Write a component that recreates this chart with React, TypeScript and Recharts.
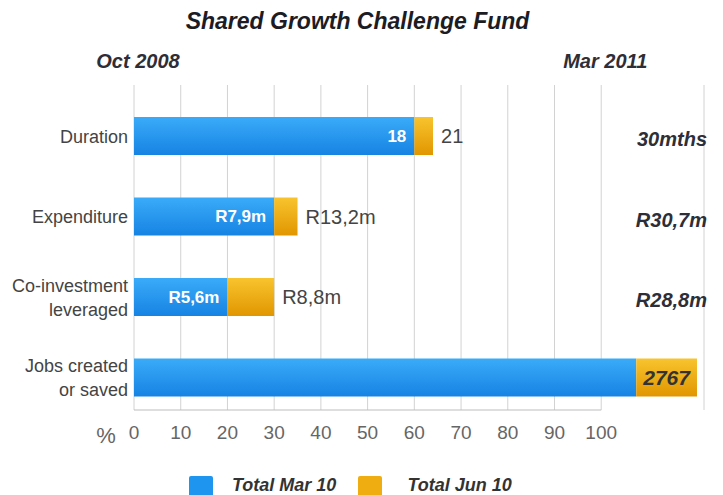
import React from "react"
import { BarChart, Bar, XAxis, YAxis, CartesianGrid, LabelList } from "recharts"

const categories = ["Duration", "Expenditure", "Co-investment\nleveraged", "Jobs created\nor saved"]
const marPct = [60, 30, 20, 107.5]
const junPct = [64, 35, 30, 120.5]
const marLabels = ["18", "R7,9m", "R5,6m", ""]
const junLabels = ["21", "R13,2m", "R8,8m", "2767"]
const totals = ["30mths", "R30,7m", "R28,8m", ""]
const pctTicks = [0, 10, 20, 30, 40, 50, 60, 70, 80, 90, 100]
const periodTicks = [0, 100]
const periodLabels = ["Oct 2008", "Mar 2011"]

const FONT = "'Liberation Sans', Arial, sans-serif"
const BLUE = "#1e95ee"
const ORANGE = "#f0ad12"

const data = categories.map((name, i) => ({
  name,
  mar: marPct[i],
  extra: junPct[i] - marPct[i],
  marLabel: marLabels[i],
  junLabel: junLabels[i],
}))

export default function App() {
  let zeroX = 0

  const CategoryTick = (props: any) => {
    const { x, y, payload } = props
    const lines = String(payload.value).split("\n")
    return (
      <g>
        {lines.map((l, i) => (
          <text
            key={i}
            x={x - 6}
            y={y + (i - (lines.length - 1) / 2) * 24}
            dy="0.35em"
            textAnchor="end"
            fill="#444"
            fontSize={18}
            fontFamily={FONT}
          >
            {l}
          </text>
        ))}
      </g>
    )
  }

  const TotalTick = (props: any) => {
    const { x, y, index } = props
    return (
      <text x={x + 3} y={y + 3} dy="0.35em" textAnchor="end" fill="#2e2e38" fontSize={20} fontWeight="bold" fontStyle="italic" fontFamily={FONT}>
        {totals[index]}
      </text>
    )
  }

  const PeriodTick = (props: any) => {
    const { x, y, payload } = props
    const i = periodTicks.indexOf(payload.value)
    return (
      <text x={x + 4} y={y - 17} textAnchor="middle" fill="#2e2e38" fontSize={20} fontWeight="bold" fontStyle="italic" fontFamily={FONT}>
        {periodLabels[i]}
      </text>
    )
  }

  const PctTick = (props: any) => {
    const { x, y, payload } = props
    if (payload.value === 0) zeroX = x
    return (
      <g>
        {payload.value === 100 && <line x1={zeroX} x2={x} y1={y} y2={y} stroke="#bdbdbd" strokeWidth={1} />}
        {payload.value === 0 && (
          <text x={x - 28} y={y + 33} textAnchor="middle" fill="#666" fontSize={22} fontFamily={FONT}>
            %
          </text>
        )}
        <text x={x} y={y + 29} textAnchor="middle" fill="#666" fontSize={19} fontFamily={FONT}>
          {payload.value}
        </text>
      </g>
    )
  }

  const MarLabel = (props: any) => {
    const { x, y, width, height, value } = props
    if (!value) return null
    return (
      <text x={x + width - 8} y={y + height / 2} dy="0.35em" textAnchor="end" fill="#fff" fontSize={17} fontWeight="bold" fontFamily={FONT}>
        {value}
      </text>
    )
  }

  const JunLabel = (props: any) => {
    const { x, y, width, height, value, index } = props
    if (junPct[index] > 100) {
      return (
        <text x={x + width / 2} y={y + height / 2} dy="0.35em" textAnchor="middle" fill="#333" fontSize={21} fontWeight="bold" fontStyle="italic" fontFamily={FONT}>
          {value}
        </text>
      )
    }
    return (
      <text x={x + width + 8} y={y + height / 2} dy="0.35em" textAnchor="start" fill="#444" fontSize={20} fontFamily={FONT}>
        {value}
      </text>
    )
  }

  return (
    <div style={{ position: "absolute", left: 0, top: 0, width: 723, height: 495, background: "#fff", fontFamily: FONT }}>
      <div
        style={{
          position: "absolute",
          left: 0,
          top: 8,
          width: 715,
          textAlign: "center",
          fontSize: 23,
          fontWeight: "bold",
          fontStyle: "italic",
          color: "#1c1c24",
        }}
      >
        Shared Growth Challenge Fund
      </div>
      <BarChart width={723} height={495} data={data} layout="vertical" margin={{ top: 40, right: 0, bottom: 45, left: 0 }}>
        <defs>
          <linearGradient id="gBlue" x1="0" y1="0" x2="0" y2="1">
            <stop offset="0%" stopColor="#3aabf9" />
            <stop offset="100%" stopColor="#1683e3" />
          </linearGradient>
          <linearGradient id="gOrange" x1="0" y1="0" x2="0" y2="1">
            <stop offset="0%" stopColor="#f8c42e" />
            <stop offset="100%" stopColor="#e19600" />
          </linearGradient>
        </defs>
        <CartesianGrid vertical horizontal={false} stroke="#d2d2d2" />
        <XAxis
          type="number"
          domain={[0, 122]}
          ticks={pctTicks}
          interval={0}
          height={40}
          axisLine={false}
          tickLine={false}
          tickSize={0}
          tickMargin={0}
          tick={PctTick}
        />
        <XAxis
          xAxisId="top"
          orientation="top"
          type="number"
          domain={[0, 122]}
          allowDataOverflow
          ticks={periodTicks}
          interval={0}
          height={45}
          axisLine={false}
          tickLine={false}
          tickSize={0}
          tickMargin={0}
          tick={PeriodTick}
        />
        <YAxis
          type="category"
          dataKey="name"
          width={134}
          axisLine={false}
          tickLine={false}
          tickSize={0}
          tickMargin={0}
          padding={{ top: 11, bottom: -8 }}
          tick={CategoryTick}
        />
        <YAxis
          yAxisId="right"
          orientation="right"
          type="category"
          dataKey="name"
          width={19}
          axisLine={false}
          tickLine={false}
          tickSize={0}
          tickMargin={0}
          padding={{ top: 11, bottom: -8 }}
          tick={TotalTick}
        />
        <Bar dataKey="mar" stackId="s" fill="url(#gBlue)" barSize={38} isAnimationActive={false}>
          <LabelList dataKey="marLabel" content={MarLabel} />
        </Bar>
        <Bar dataKey="extra" stackId="s" fill="url(#gOrange)" barSize={38} isAnimationActive={false}>
          <LabelList dataKey="junLabel" content={JunLabel} />
        </Bar>
      </BarChart>
      <div style={{ position: "absolute", left: 189, top: 476, display: "flex", alignItems: "flex-start" }}>
        <div style={{ width: 24, height: 22, background: BLUE, borderRadius: 2 }} />
        <div style={{ marginLeft: 19, fontSize: 18, fontWeight: "bold", fontStyle: "italic", color: "#333", lineHeight: "18px" }}>
          Total Mar 10
        </div>
        <div style={{ marginLeft: 22, width: 24, height: 22, background: ORANGE, borderRadius: 2 }} />
        <div style={{ marginLeft: 25, fontSize: 18, fontWeight: "bold", fontStyle: "italic", color: "#333", lineHeight: "18px" }}>
          Total Jun 10
        </div>
      </div>
    </div>
  )
}
